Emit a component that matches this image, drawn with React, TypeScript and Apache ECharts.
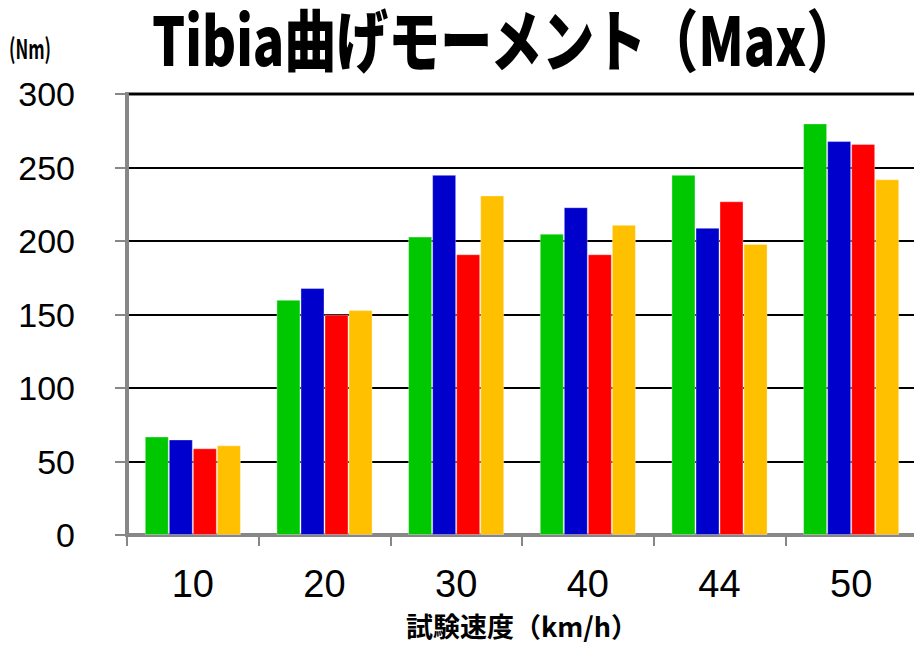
import React, { useEffect, useRef } from "react";
import * as echarts from "echarts";

// Test speeds (km/h)
const categories = ["10", "20", "30", "40", "44", "50"];

// Tibia bending moment (Nm), four test cases per speed
const seriesGreen = [67, 160, 203, 205, 245, 280];
const seriesBlue = [65, 168, 245, 223, 209, 268];
const seriesRed = [59, 150, 191, 191, 227, 266];
const seriesYellow = [61, 153, 231, 211, 198, 242];

const seriesNames = ["系列1", "系列2", "系列3", "系列4"];
const seriesColors = ["#00C800", "#0000CC", "#FF0000", "#FFC000"];

const titleText = "Tibia曲げモーメント（Max）";
const unitText = "(Nm)";
const xAxisTitle = "試験速度（km/h）";

const App: React.FC = () => {
  const ref = useRef<HTMLDivElement>(null);

  useEffect(() => {
    if (!ref.current) return;
    const chart = echarts.init(ref.current, null, { renderer: "svg" });
    const data = [seriesGreen, seriesBlue, seriesRed, seriesYellow];

    chart.setOption({
      animation: false,
      backgroundColor: "#ffffff",
      grid: {
        left: 127,
        top: 94,
        right: -3,
        bottom: 110,
        show: true,
        borderColor: "#878787",
        borderWidth: 4,
        containLabel: false,
        outerBoundsMode: "none",
      },
      xAxis: {
        type: "category",
        data: categories,
        name: xAxisTitle,
        nameLocation: "middle",
        nameGap: 77,
        nameTextStyle: {
          fontFamily: "Noto Sans CJK JP",
          fontWeight: "bold",
          fontSize: 27,
          lineHeight: 27,
          color: "#000",
        },
        axisLine: { show: true, lineStyle: { color: "#878787", width: 4 } },
        axisTick: {
          show: true,
          alignWithLabel: false,
          length: 11,
          lineStyle: { color: "#878787", width: 2 },
        },
        axisLabel: {
          margin: 30,
          fontFamily: "Liberation Sans",
          fontSize: 38,
          color: "#000",
        },
      },
      yAxis: {
        type: "value",
        min: 0,
        max: 300,
        interval: 50,
        axisLine: { show: true, lineStyle: { color: "#878787", width: 4 } },
        axisTick: {
          show: true,
          inside: false,
          length: 12,
          lineStyle: { color: "#878787", width: 2 },
        },
        axisLabel: {
          margin: 52,
          fontFamily: "Liberation Sans",
          fontSize: 34,
          color: "#000",
        },
        splitLine: { show: true, lineStyle: { color: "#000", width: 2 } },
      },
      series: data.map((values, i) => ({
        name: seriesNames[i],
        type: "bar",
        data: values,
        barGap: "0%",
        barCategoryGap: "27%",
        itemStyle: {
          color: seriesColors[i],
          borderColor: "rgba(255,255,255,0.35)",
          borderWidth: 1,
        },
      })),
      graphic: [
        {
          // tall, narrow headline
          type: "text",
          x: 152,
          y: 36,
          scaleY: 1.3,
          style: {
            text: titleText,
            fontFamily: "Noto Sans CJK JP",
            fontWeight: 900,
            fontSize: 52,
            fill: "#000",
            textAlign: "left",
            textVerticalAlign: "middle",
          },
        },
        {
          type: "text",
          x: 30,
          y: 48,
          scaleY: 1.6,
          style: {
            text: unitText,
            fontFamily: "Noto Sans CJK JP",
            fontWeight: "bold",
            fontSize: 17,
            fill: "#000",
            textAlign: "center",
            textVerticalAlign: "middle",
          },
        },
      ],
    });

    return () => chart.dispose();
  }, []);

  return (
    <div
      ref={ref}
      style={{ position: "absolute", left: 0, top: 0, width: 914, height: 645 }}
    />
  );
};

export default App;
